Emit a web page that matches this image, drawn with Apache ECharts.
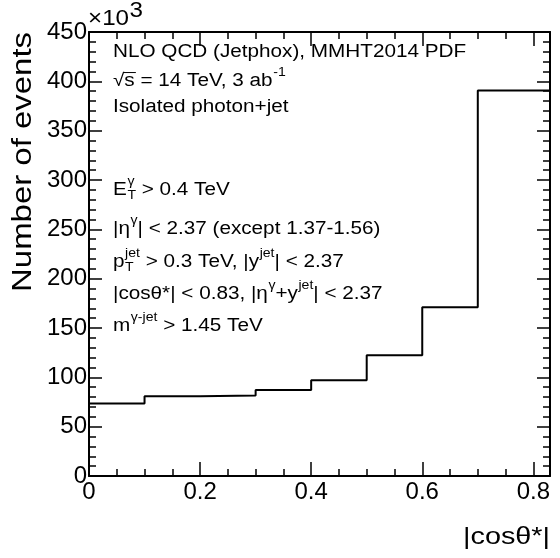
<!DOCTYPE html>
<html>
<head>
<meta charset="utf-8">
<script src="https://cdn.jsdelivr.net/npm/echarts@6/dist/echarts.min.js"></script>
<style>
  html, body { margin: 0; padding: 0; background: #ffffff; }
  #chart { width: 560px; height: 558px; }
</style>
</head>
<body>
<div id="chart"></div>
<script>
// Histogram of |cos θ*| for isolated photon + jet events (counts in units of 10^3)
const binEdges = [0, 0.1, 0.2, 0.3, 0.4, 0.5, 0.6, 0.7, 0.83];
const binCounts = [73.4, 80.8, 81.5, 87.2, 97.0, 122.3, 171.0, 390.6];
const xTickLabels = ['0', '0.2', '0.4', '0.6', '0.8'];
const yTickLabels = ['0', '50', '100', '150', '200', '250', '300', '350', '400', '450'];

const FONT = '"Liberation Sans", Arial, Helvetica, sans-serif';
const X_MAX = binEdges[binEdges.length - 1];
const Y_MAX = Number(yTickLabels[yTickLabels.length - 1]);

// Step-line points: one point per bin low edge, plus the upper edge of the last bin
const stepData = binCounts.map((v, i) => [binEdges[i], v]);
stepData.push([X_MAX, binCounts[binCounts.length - 1]]);

// ---- text layout helpers (superscripts / subscripts) ----
const measureCtx = document.createElement('canvas').getContext('2d');
function textWidth(str, size) {
  measureCtx.font = size + 'px ' + FONT;
  return measureCtx.measureText(str).width;
}
function txt(str, x, y, size, align) {
  return {
    type: 'text', x: x, y: y, silent: true,
    style: {
      text: str, fill: '#000', font: size + 'px ' + FONT,
      align: align || 'left', verticalAlign: 'middle',
      textAlign: align || 'left', textVerticalAlign: 'middle'
    }
  };
}
// tokens: {t, sup, sub, supSize, supRise, overline}
function latexLine(tokens, x0, yc, size, scaleX) {
  const children = [];
  let x = 0;
  tokens.forEach(tok => {
    if (tok.t) {
      const w = textWidth(tok.t, size);
      children.push(txt(tok.t, x, 0, size));
      if (tok.overline) {
        children.push({
          type: 'line', silent: true,
          shape: { x1: x - 1, y1: -size * 0.47, x2: x + w + 1, y2: -size * 0.47 },
          style: { stroke: '#000', lineWidth: 1 }
        });
      }
      x += w;
    }
    let adv = 0;
    if (tok.sup) {
      const s = tok.supSize || size * 0.68;
      const rise = tok.supRise || size * 0.45;
      children.push(txt(tok.sup, x + 0.5, -rise, s));
      adv = Math.max(adv, textWidth(tok.sup, s) + 0.5);
    }
    if (tok.sub) {
      const s = size * 0.68;
      children.push(txt(tok.sub, x + 0.5, size * 0.32, s));
      adv = Math.max(adv, textWidth(tok.sub, s) + 0.5);
    }
    x += adv;
  });
  return { type: 'group', x: x0, y: yc, scaleX: scaleX, children: children };
}

const TS = 18;      // annotation font size
const TSX = 1.15;   // horizontal stretch of the annotation font
const TX = 113;     // left edge of annotation block

const annotations = [
  latexLine([{ t: 'NLO QCD (Jetphox), MMHT2014 PDF' }], TX, 52, TS, TSX),
  latexLine([{ t: '√' }, { t: 's', overline: true }, { t: ' = 14 TeV, 3 ab', sup: '-1' }], TX, 81, TS, TSX),
  latexLine([{ t: 'Isolated photon+jet' }], TX, 107, TS, TSX),
  latexLine([{ t: 'E', sup: 'γ', sub: 'T' }, { t: ' > 0.4 TeV' }], TX, 190, TS, TSX),
  latexLine([{ t: '|η', sup: 'γ' }, { t: '| < 2.37 (except 1.37-1.56)' }], TX, 229, TS, TSX),
  latexLine([{ t: 'p', sup: 'jet', sub: 'T' }, { t: ' > 0.3 TeV, |y', sup: 'jet' }, { t: '| < 2.37' }], TX, 262, TS, TSX),
  latexLine([{ t: '|cosθ*| < 0.83, |η', sup: 'γ' }, { t: '+y', sup: 'jet' }, { t: '| < 2.37' }], TX, 294, TS, TSX),
  latexLine([{ t: 'm', sup: 'γ-jet' }, { t: ' > 1.45 TeV' }], TX, 326, TS, TSX)
];

// axis multiplier and axis titles
const extras = [
  latexLine([{ t: '×10', sup: '3', supSize: 22, supRise: 8 }], 88, 19, 22, 1.1),
  {
    type: 'group', x: 550, y: 537, scaleX: 1.2,
    children: [txt('|cosθ*|', 0, 0, 24, 'right')]
  },
  {
    type: 'text', x: 24, y: 32, rotation: Math.PI / 2, scaleX: 1.22, silent: true,
    style: {
      text: 'Number of events', fill: '#000', font: '27px ' + FONT,
      align: 'right', verticalAlign: 'middle',
      textAlign: 'right', textVerticalAlign: 'middle'
    }
  }
];

const black = '#000';
const lineStyle = { color: black, width: 2 };

function xLabel(v) {
  const s = String(+v.toFixed(3));
  return xTickLabels.indexOf(s) >= 0 ? s : '';
}
function yLabel(v) {
  const s = String(Math.round(v));
  return yTickLabels.indexOf(s) >= 0 ? s : '';
}

function xAxisDef(position, interval, tickLen, withLine, withLabel) {
  return {
    type: 'value', position: position, min: 0, max: X_MAX, interval: interval,
    axisLine: { show: withLine, onZero: false, lineStyle: lineStyle },
    axisTick: { show: true, inside: true, length: tickLen, lineStyle: { color: black, width: 1.5 } },
    axisLabel: {
      show: withLabel, formatter: xLabel, color: black, fontFamily: FONT,
      fontSize: 24, margin: 4, showMinLabel: true, showMaxLabel: true
    },
    splitLine: { show: false }
  };
}
function yAxisDef(position, withLabel) {
  return {
    type: 'value', position: position, min: 0, max: Y_MAX, interval: 50,
    axisLine: { show: true, onZero: false, lineStyle: lineStyle },
    axisTick: { show: true, inside: true, length: 13, lineStyle: { color: black, width: 1.5 } },
    minorTick: { show: true, splitNumber: 5, length: 7, lineStyle: { color: black, width: 1.5 } },
    axisLabel: {
      show: withLabel, formatter: yLabel, color: black, fontFamily: FONT,
      fontSize: 24, margin: 2
    },
    splitLine: { show: false }
  };
}

const chart = echarts.init(document.getElementById('chart'), null, { renderer: 'canvas' });
chart.setOption({
  animation: false,
  backgroundColor: '#ffffff',
  grid: { left: 89, right: 10, top: 32, bottom: 82, containLabel: false },
  xAxis: [
    xAxisDef('bottom', 0.05, 7, true, true),
    xAxisDef('bottom', 0.2, 14, false, false),
    xAxisDef('top', 0.05, 7, true, false),
    xAxisDef('top', 0.2, 14, false, false)
  ],
  yAxis: [
    yAxisDef('left', true),
    yAxisDef('right', false)
  ],
  series: [{
    type: 'line',
    step: 'end',
    data: stepData,
    xAxisIndex: 0,
    yAxisIndex: 0,
    symbol: 'none',
    lineStyle: { color: black, width: 2 },
    clip: true,
    z: 3
  }],
  graphic: annotations.concat(extras)
});
</script>
</body>
</html>
